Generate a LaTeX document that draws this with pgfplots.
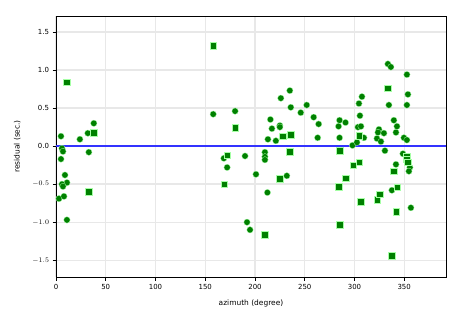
\documentclass[border=0pt]{standalone}
\usepackage{pgfplots}
\pgfplotsset{compat=1.18}
\usepackage{fontspec}
\setmainfont{DejaVu Sans}
\definecolor{mgreen}{HTML}{008000}
\definecolor{lblue}{HTML}{3333FF}
\begin{document}
\begin{tikzpicture}
\path[use as bounding box] (-56bp,-38bp) rectangle (409bp,277bp);
\begin{axis}[
  scale only axis, width=390bp, height=261bp,
  at={(0,0)}, anchor=south west,
  xmin=0, xmax=392, ymin=-1.72, ymax=1.71,
  xtick={0,50,...,350}, ytick={-1.5,-1,...,1.5},
  yticklabels={$-1.5$,$-1.0$,$-0.5$,0.0,0.5,1.0,1.5},
  /pgf/number format/assume math mode=true,
  tick align=outside, tick pos=left,
  major tick length=3.5bp,
  grid=major, major grid style={draw=black!9, line width=1.4pt},
  axis line style={line width=0.8pt},
  tick style={black, line width=0.6pt},
  ticklabel style={font=\fontsize{7}{8}\selectfont},
  label style={font=\fontsize{7.5}{9}\selectfont},
  xlabel={azimuth (degree)}, ylabel={residual (sec.)},
  xlabel style={yshift=-4bp}, ylabel style={yshift=5bp},
]
\addplot[only marks, mark=*, mark size=3.2bp, mgreen, mark options={fill=mgreen, draw=green!35!white, line width=0.3pt}] coordinates {
(5,0.13)(24,0.09)(32,0.17)(38,0.30)(6,-0.03)(7,-0.07)(33,-0.08)(5,-0.17)(9,-0.38)(11,-0.48)(6,-0.50)(7,-0.53)(3,-0.69)(8,-0.66)(11,-0.97)
(158,0.42)(180,0.46)(215.5,0.35)(217,0.23)(213,0.09)(221,0.07)(225,0.27)(225,0.25)(226,0.63)(235,0.73)(236,0.51)(246,0.44)(252,0.54)(259,0.38)(264,0.29)(263,0.11)
(168.7,-0.16)(172,-0.28)(190,-0.13)(201,-0.37)(210,-0.08)(210,-0.14)(210,-0.18)(212.5,-0.61)(192,-1.0)(195,-1.10)(232,-0.39)
(285,0.34)(284,0.26)(291,0.31)(285,0.11)(304.5,0.56)(307.5,0.65)(305.5,0.40)(303.5,0.25)(306.5,0.26)(309.5,0.11)(298,0.01)(302.5,0.05)
(324.6,0.22)(323.6,0.18)(329.6,0.17)(322.6,0.10)(326.6,0.06)(333.6,1.08)(336.6,1.04)(334.6,0.54)(339.6,0.34)(342.7,0.26)(341.7,0.18)
(352.7,0.94)(353.7,0.68)(352.7,0.54)(349.7,0.11)(352.7,0.08)(330.6,-0.06)(341.7,-0.24)(337.6,-0.58)(348.7,-0.10)(355.7,-0.28)(354.7,-0.33)(356.7,-0.81)
};
\addplot[only marks, mark=square*, mark size=3.3bp, mgreen, mark options={fill=mgreen, draw=green!35!white, line width=0.3pt}] coordinates {
(11,0.84)(38,0.18)(33,-0.60)(158,1.32)(180,0.24)(172,-0.12)(169,-0.5)(210,-1.16)(228,0.13)(236,0.15)(235,-0.07)(225,-0.43)
(285,-0.06)(284,-0.53)(291,-0.42)(285,-1.03)(298.5,-0.25)(304.5,0.14)(304.5,-0.21)(306.5,-0.73)(322.6,-0.70)(325.6,-0.63)
(333.6,0.76)(339.6,-0.33)(342.7,-0.54)(341.7,-0.86)(337.6,-1.44)(352.7,-0.13)(352.7,-0.17)(353.4,-0.21)
};
\addplot[lblue, line width=1.5pt, no marks] coordinates {(0,0)(392,0)};
\end{axis}
\end{tikzpicture}
\end{document}
